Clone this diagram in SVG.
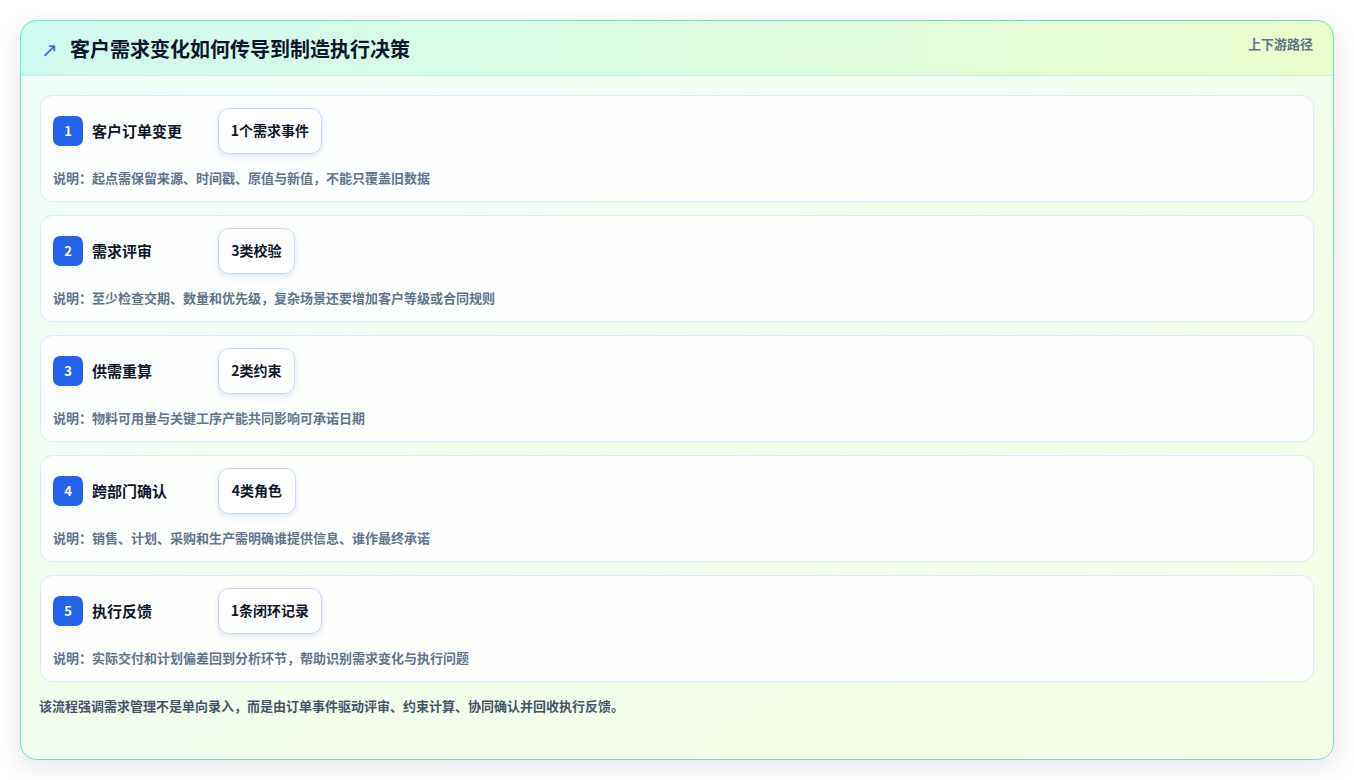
<svg xmlns="http://www.w3.org/2000/svg" width="1354" height="780" viewBox="0 0 1354 780">
<defs>
<linearGradient id="bg" x1="0" y1="0" x2="1" y2="1">
<stop offset="0" stop-color="#effcf8"/>
<stop offset="1" stop-color="#f7fee7"/>
</linearGradient>
<linearGradient id="hd" x1="0" y1="0" x2="1" y2="0">
<stop offset="0" stop-color="#cffaef"/>
<stop offset="0.5" stop-color="#dbfbe2"/>
<stop offset="1" stop-color="#ecfccb"/>
</linearGradient>
<clipPath id="cardclip"><rect x="20" y="20" width="1314" height="740" rx="16"/></clipPath>
<filter id="sh" x="-10%" y="-10%" width="120%" height="130%">
<feDropShadow dx="0" dy="8" stdDeviation="12" flood-color="#0f172a" flood-opacity="0.10"/>
</filter>
<filter id="chipsh" x="-30%" y="-30%" width="160%" height="180%">
<feDropShadow dx="0" dy="3" stdDeviation="3" flood-color="#1e3a8a" flood-opacity="0.10"/>
</filter>
<style>
text{font-family:"Noto Sans CJK SC","Noto Sans",sans-serif;}
.title{font-size:20px;font-weight:700;fill:#0f172a;}
.tag{font-size:13px;font-weight:700;fill:#64748b;}
.row{fill:#ffffff;fill-opacity:0.85;stroke:#dbeafe;stroke-width:1;}
.badge{fill:#2563eb;}
.bnum{font-size:13px;font-weight:700;fill:#ffffff;text-anchor:middle;}
.lbl{font-size:15px;font-weight:700;fill:#0f172a;}
.chip{fill:#ffffff;stroke:#c7d7f5;stroke-width:1;}
.ctext{font-size:14px;font-weight:700;fill:#0f172a;text-anchor:middle;}
.desc{font-size:13px;font-weight:700;fill:#64748b;}
.foot{font-size:13px;font-weight:700;fill:#475569;}
</style>
</defs>
<rect x="0" y="0" width="1354" height="780" fill="#ffffff"/>
<g id="card">
<rect x="20" y="20" width="1314" height="740" rx="16" fill="url(#bg)" filter="url(#sh)"/>
<g clip-path="url(#cardclip)">
<rect x="20" y="20" width="1314" height="55" fill="url(#hd)"/>
<line x1="20" y1="75.5" x2="1334" y2="75.5" stroke="#c8f0e6" stroke-width="1"/>
</g>
<rect x="20.5" y="20.5" width="1313" height="739" rx="16" fill="none" stroke="#7fdccd" stroke-width="1"/>
<text x="41" y="57" style="font-size:20px;font-weight:400;fill:#3b6fe0;font-family:'DejaVu Sans',sans-serif">↗</text>
<text x="70" y="56.5" class="title">客户需求变化如何传导到制造执行决策</text>
<text x="1313" y="49" class="tag" text-anchor="end">上下游路径</text>
</g>
<g id="node1">
<rect x="40.5" y="95.5" width="1273" height="106" rx="12" class="row"/>
<rect x="53" y="116" width="30" height="30" rx="7" class="badge"/>
<text x="68" y="135.5" class="bnum">1</text>
<text x="92" y="136.5" class="lbl">客户订单变更</text>
<rect x="218.5" y="108.5" width="103" height="45" rx="10" class="chip" filter="url(#chipsh)"/>
<text x="270" y="136" class="ctext">1个需求事件</text>
<text x="53" y="182.5" class="desc">说明：起点需保留来源、时间戳、原值与新值，不能只覆盖旧数据</text>
</g>
<g id="node2">
<rect x="40.5" y="215.5" width="1273" height="106" rx="12" class="row"/>
<rect x="53" y="236" width="30" height="30" rx="7" class="badge"/>
<text x="68" y="255.5" class="bnum">2</text>
<text x="92" y="256.5" class="lbl">需求评审</text>
<rect x="218.5" y="228.5" width="76" height="45" rx="10" class="chip" filter="url(#chipsh)"/>
<text x="256.5" y="256" class="ctext">3类校验</text>
<text x="53" y="302.5" class="desc">说明：至少检查交期、数量和优先级，复杂场景还要增加客户等级或合同规则</text>
</g>
<g id="node3">
<rect x="40.5" y="335.5" width="1273" height="106" rx="12" class="row"/>
<rect x="53" y="356" width="30" height="30" rx="7" class="badge"/>
<text x="68" y="375.5" class="bnum">3</text>
<text x="92" y="376.5" class="lbl">供需重算</text>
<rect x="218.5" y="348.5" width="76" height="45" rx="10" class="chip" filter="url(#chipsh)"/>
<text x="256.5" y="376" class="ctext">2类约束</text>
<text x="53" y="422.5" class="desc">说明：物料可用量与关键工序产能共同影响可承诺日期</text>
</g>
<g id="node4">
<rect x="40.5" y="455.5" width="1273" height="106" rx="12" class="row"/>
<rect x="53" y="476" width="30" height="30" rx="7" class="badge"/>
<text x="68" y="495.5" class="bnum">4</text>
<text x="92" y="496.5" class="lbl">跨部门确认</text>
<rect x="218.5" y="468.5" width="77" height="45" rx="10" class="chip" filter="url(#chipsh)"/>
<text x="257" y="496" class="ctext">4类角色</text>
<text x="53" y="542.5" class="desc">说明：销售、计划、采购和生产需明确谁提供信息、谁作最终承诺</text>
</g>
<g id="node5">
<rect x="40.5" y="575.5" width="1273" height="106" rx="12" class="row"/>
<rect x="53" y="596" width="30" height="30" rx="7" class="badge"/>
<text x="68" y="615.5" class="bnum">5</text>
<text x="92" y="616.5" class="lbl">执行反馈</text>
<rect x="218.5" y="588.5" width="103" height="45" rx="10" class="chip" filter="url(#chipsh)"/>
<text x="270" y="616" class="ctext">1条闭环记录</text>
<text x="53" y="662.5" class="desc">说明：实际交付和计划偏差回到分析环节，帮助识别需求变化与执行问题</text>
</g>
<g id="connectors"></g>
<text x="39" y="710.5" class="foot">该流程强调需求管理不是单向录入，而是由订单事件驱动评审、约束计算、协同确认并回收执行反馈。</text>
</svg>
